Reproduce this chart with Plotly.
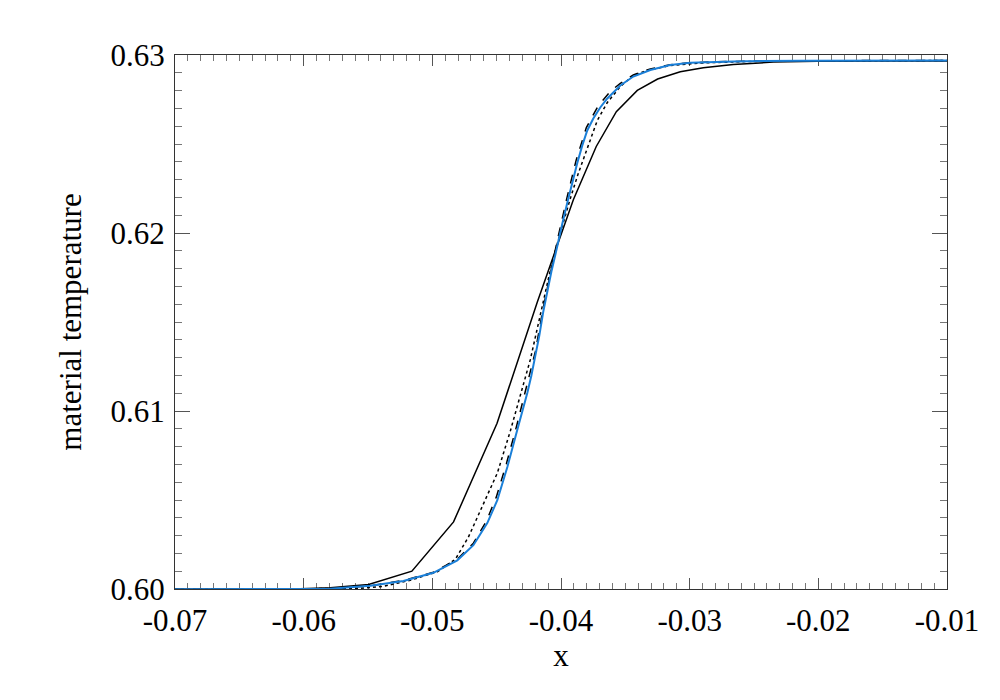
import plotly.graph_objects as go

# coarse run (solid black)
x_coarse = [-0.07000, -0.06414, -0.06026, -0.05793, -0.05495, -0.05159, -0.04835, -0.04497,
            -0.04184, -0.03904, -0.03726, -0.03570, -0.03407, -0.03249, -0.03073, -0.02894,
            -0.02661, -0.02350, -0.02009, -0.01519, -0.01000]
y_coarse = [0.60000, 0.60000, 0.60001, 0.60007, 0.60025, 0.60100, 0.60377, 0.60931,
            0.61613, 0.62187, 0.62486, 0.62682, 0.62801, 0.62865, 0.62906, 0.62928,
            0.62947, 0.62960, 0.62965, 0.62966, 0.62966]

# medium run (dotted)
x_medium = [-0.07000, -0.05793, -0.05583, -0.05381, -0.05171, -0.04961, -0.04821, -0.04720,
            -0.04627, -0.04495, -0.04394, -0.04316, -0.04239, -0.04192, -0.04145, -0.04091,
            -0.04029, -0.03982, -0.03928, -0.03866, -0.03796, -0.03718, -0.03640, -0.03539,
            -0.03438, -0.03329, -0.03151, -0.02918, -0.02529, -0.02141, -0.01000]
y_medium = [0.59999, 0.60001, 0.60003, 0.60015, 0.60049, 0.60097, 0.60167, 0.60291,
            0.60437, 0.60651, 0.60887, 0.61090, 0.61287, 0.61439, 0.61596, 0.61765,
            0.61940, 0.62063, 0.62193, 0.62334, 0.62480, 0.62632, 0.62733, 0.62823,
            0.62885, 0.62913, 0.62941, 0.62955, 0.62964, 0.62966, 0.62969]

# fine run (dashed)
x_fine = [-0.07000, -0.05793, -0.05482, -0.05225, -0.04992, -0.04806, -0.04681, -0.04580,
          -0.04503, -0.04425, -0.04347, -0.04277, -0.04200, -0.04138, -0.04075, -0.04029,
          -0.03959, -0.03881, -0.03803, -0.03710, -0.03609, -0.03539, -0.03438, -0.03306,
          -0.03151, -0.02995, -0.02661, -0.02141, -0.01000]
y_fine = [0.59999, 0.60001, 0.60018, 0.60048, 0.60094, 0.60167, 0.60257, 0.60381,
          0.60516, 0.60702, 0.60910, 0.61112, 0.61332, 0.61580, 0.61805, 0.61957,
          0.62182, 0.62412, 0.62592, 0.62716, 0.62801, 0.62840, 0.62888, 0.62922,
          0.62945, 0.62957, 0.62964, 0.62968, 0.62969]

# reference solution (blue)
x_ref = [-0.07000, -0.06026, -0.05793, -0.05482, -0.05225, -0.04992, -0.04806, -0.04681,
         -0.04573, -0.04495, -0.04417, -0.04340, -0.04301, -0.04262, -0.04231, -0.04200,
         -0.04169, -0.04138, -0.04106, -0.04075, -0.04044, -0.04021, -0.03990, -0.03951,
         -0.03912, -0.03873, -0.03835, -0.03796, -0.03749, -0.03695, -0.03640, -0.03594,
         -0.03539, -0.03438, -0.03306, -0.03151, -0.02995, -0.02661, -0.02141, -0.01000]
y_ref = [0.59999, 0.60000, 0.60002, 0.60018, 0.60045, 0.60091, 0.60161, 0.60246,
         0.60370, 0.60499, 0.60685, 0.60893, 0.60994, 0.61101, 0.61197, 0.61304,
         0.61422, 0.61557, 0.61675, 0.61782, 0.61878, 0.61945, 0.62052, 0.62170,
         0.62289, 0.62395, 0.62491, 0.62576, 0.62643, 0.62705, 0.62756, 0.62789,
         0.62829, 0.62879, 0.62916, 0.62944, 0.62957, 0.62964, 0.62968, 0.62969]

x_ticks = [-0.07, -0.06, -0.05, -0.04, -0.03, -0.02, -0.01]
x_labels = ['-0.07', '-0.06', '-0.05', '-0.04', '-0.03', '-0.02', '-0.01']
y_ticks = [0.60, 0.61, 0.62, 0.63]
y_labels = ['0.60', '0.61', '0.62', '0.63']

fig = go.Figure()
fig.add_trace(go.Scatter(x=x_coarse, y=y_coarse, mode='lines', cliponaxis=False,
                         line=dict(color='black', width=1.5)))
fig.add_trace(go.Scatter(x=x_medium, y=y_medium, mode='lines', cliponaxis=False,
                         line=dict(color='black', width=1.5, dash='dot')))
fig.add_trace(go.Scatter(x=x_fine, y=y_fine, mode='lines', cliponaxis=False,
                         line=dict(color='black', width=1.5, dash='dash')))
fig.add_trace(go.Scatter(x=x_ref, y=y_ref, mode='lines', cliponaxis=False,
                         line=dict(color='#1a7fd8', width=2)))

font = dict(family='Liberation Serif, Times New Roman, serif', size=31, color='black')

# page has an 8px body margin, so margins are trimmed by 8 on the left/top
fig.update_layout(
    width=1000, height=700,
    margin=dict(l=167, r=61, t=47, b=119),
    paper_bgcolor='white', plot_bgcolor='white',
    showlegend=False,
    font=font,
)
fig.update_xaxes(
    range=[-0.07, -0.01], tickvals=x_ticks, ticktext=x_labels,
    showgrid=False, zeroline=False, automargin=False,
    showline=True, linecolor='#333', linewidth=1.2, mirror='allticks',
    ticks='inside', ticklen=11, tickcolor='#555', tickwidth=1,
    minor=dict(dtick=0.001, tick0=-0.07, ticks='inside', ticklen=6, tickcolor='#777', showgrid=False),
    ticklabelstandoff=4,
    title=dict(text='x', standoff=6, font=font),
    layer='below traces',
)
fig.update_yaxes(
    range=[0.60, 0.63], tickvals=y_ticks, ticktext=y_labels,
    showgrid=False, zeroline=False, automargin=False,
    showline=True, linecolor='#333', linewidth=1.2, mirror='allticks',
    ticks='inside', ticklen=15, tickcolor='#555', tickwidth=1,
    minor=dict(dtick=0.001, tick0=0.60, ticks='inside', ticklen=7, tickcolor='#777', showgrid=False),
    ticklabelstandoff=3,
    title=dict(text='material temperature', standoff=19, font=font),
    layer='below traces',
)

fig.write_html("out.html")
